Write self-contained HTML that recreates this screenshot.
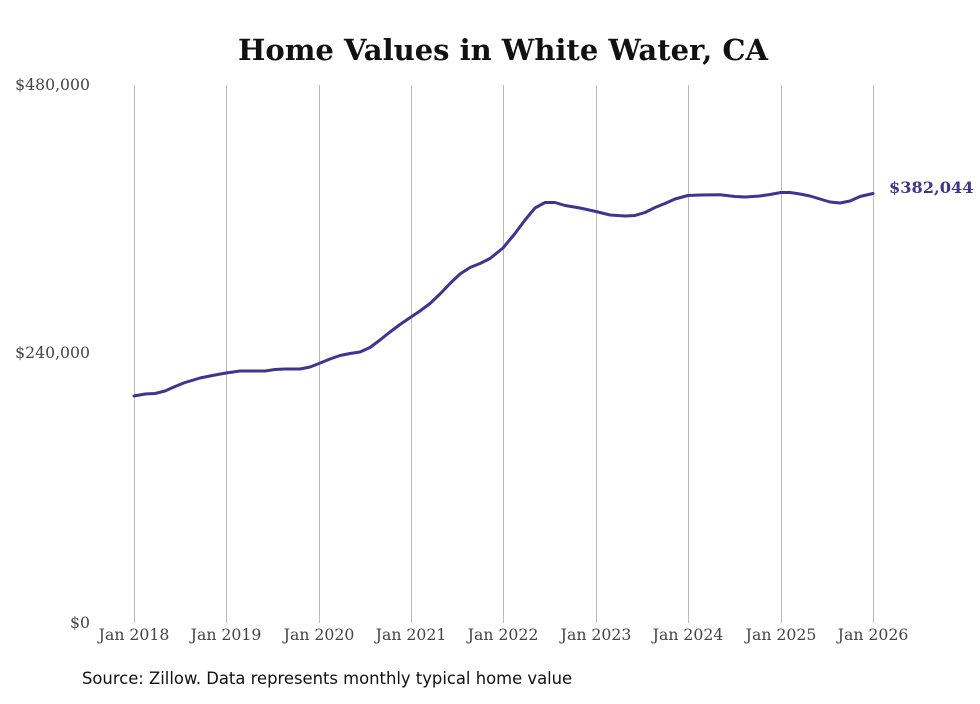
<!DOCTYPE html>
<html><head><meta charset="utf-8"><style>
body{margin:0;background:#fff;}
</style></head><body>
<svg width="980" height="699" xmlns="http://www.w3.org/2000/svg">
<rect width="980" height="699" fill="#fff"/>
<text x="503" y="60" text-anchor="middle" font-family="DejaVu Serif, Liberation Serif, serif" font-weight="bold" font-size="29" fill="#111">Home Values in White Water, CA</text>
<g stroke="#bbb" stroke-width="1">
<line x1="134.5" y1="85" x2="134.5" y2="623"/>
<line x1="226.5" y1="85" x2="226.5" y2="623"/>
<line x1="319.5" y1="85" x2="319.5" y2="623"/>
<line x1="411.5" y1="85" x2="411.5" y2="623"/>
<line x1="503.5" y1="85" x2="503.5" y2="623"/>
<line x1="596.5" y1="85" x2="596.5" y2="623"/>
<line x1="688.5" y1="85" x2="688.5" y2="623"/>
<line x1="781.5" y1="85" x2="781.5" y2="623"/>
<line x1="873.5" y1="85" x2="873.5" y2="623"/>
</g>
<g font-family="DejaVu Serif, Liberation Serif, serif" font-size="15.7" fill="#444">
<text x="90" y="90" text-anchor="end">$480,000</text>
<text x="90" y="358" text-anchor="end">$240,000</text>
<text x="90" y="628" text-anchor="end">$0</text>
<g text-anchor="middle">
<text x="134" y="640">Jan 2018</text>
<text x="226" y="640">Jan 2019</text>
<text x="319" y="640">Jan 2020</text>
<text x="411" y="640">Jan 2021</text>
<text x="503" y="640">Jan 2022</text>
<text x="596" y="640">Jan 2023</text>
<text x="688" y="640">Jan 2024</text>
<text x="781" y="640">Jan 2025</text>
<text x="873" y="640">Jan 2026</text>
</g></g>
<polyline fill="none" stroke="#3d3590" stroke-width="3" stroke-linejoin="round" stroke-linecap="round" points="134,396 145,394 155,393.5 165,391 175,386.5 185,382.5 200,378 215,375 226,373 240,371 250,371 265,371 275,369.5 285,369 300,369 310,367 319,363.5 330,359 340,355.5 350,353.5 360,352 370,347.5 380,340 390,332 400,324.5 411,317 420,311 430,303.5 440,294 450,283.5 460,274 470,267.5 480,263.5 490,258.5 503,248 515,233.5 525,220 535,208 545,202.5 555,202.5 565,205.5 580,208 596,211.5 610,215 625,216 635,215.5 645,212.5 655,207.5 665,203.5 675,199 688,195.5 700,195 720,194.8 735,196.5 745,197 760,196 770,194.5 781,192.5 790,192.5 800,194 810,196 820,199 830,202 840,203 850,201 860,196.5 873,193.5"/>
<text x="889" y="193" font-family="DejaVu Serif, Liberation Serif, serif" font-weight="bold" font-size="16.2" fill="#3d3590">$382,044</text>
<text x="82" y="684" font-family="DejaVu Sans, Liberation Sans, sans-serif" font-size="16.4" fill="#111">Source: Zillow. Data represents monthly typical home value</text>
</svg>
</body></html>
